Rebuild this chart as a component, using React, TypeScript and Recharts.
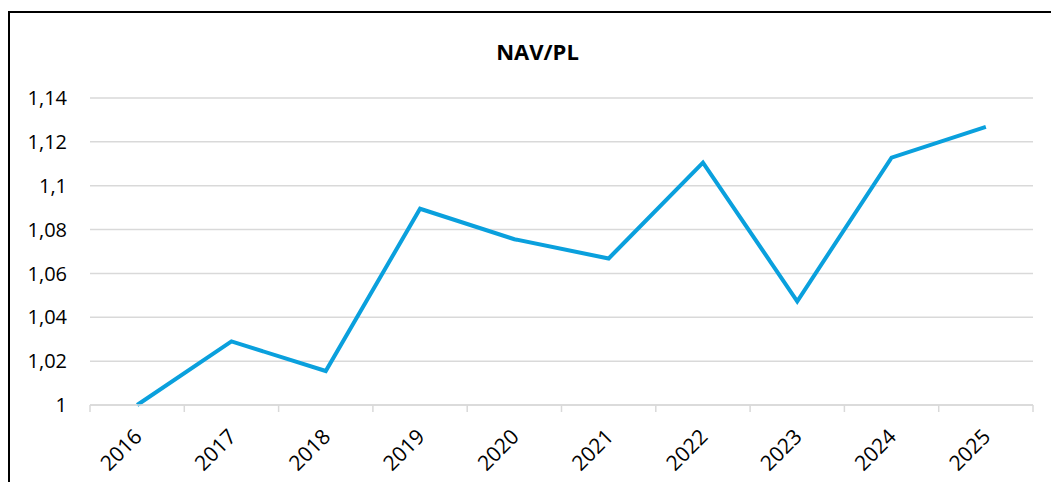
import React from 'react';
import { CartesianGrid, Line, LineChart, XAxis, YAxis } from 'recharts';

const years = ['2016', '2017', '2018', '2019', '2020', '2021', '2022', '2023', '2024', '2025'];
const navPl = [1.0, 1.029, 1.0155, 1.0895, 1.0756, 1.0668, 1.1105, 1.0473, 1.1128, 1.1268];
const yTicks = [1, 1.02, 1.04, 1.06, 1.08, 1.1, 1.12, 1.14];

const data = years.map((year, i) => ({ year, value: navPl[i] }));

const FONT = '"Open Sans", "Noto Sans", sans-serif';
const CHART_W = 1041;
const CHART_H = 469;
const MARGIN = { top: 85, right: 18, left: 20, bottom: 7 };
const Y_AXIS_W = 60;
const BAND = (CHART_W - MARGIN.left - MARGIN.right - Y_AXIS_W) / years.length;

const formatTick = (v: number): string => Number(v.toFixed(2)).toString().replace('.', ',');

const YearTick = (props: any) => {
  const { x, y, payload, index } = props;
  const axisY = y - 8;
  const isLast = index === years.length - 1;
  return (
    <g>
      <line x1={x - BAND / 2} x2={x - BAND / 2} y1={axisY} y2={axisY + 7} stroke="#d9d9d9" strokeWidth={1.5} />
      {isLast && (
        <line x1={x + BAND / 2} x2={x + BAND / 2} y1={axisY} y2={axisY + 7} stroke="#d9d9d9" strokeWidth={1.5} />
      )}
      <text
        x={x + 6}
        y={y + 25}
        transform={`rotate(-45, ${x + 6}, ${y + 25})`}
        textAnchor="end"
        fill="#000"
        fontSize={21}
        fontFamily={FONT}
      >
        {payload.value}
      </text>
    </g>
  );
};

export default function App() {
  return (
    <div
      style={{
        position: 'fixed',
        left: 8,
        top: 11,
        width: 1050,
        height: 480,
        borderLeft: '2px solid #000',
        borderTop: '2px solid #000',
        background: '#fff',
        fontFamily: FONT
      }}
    >
      <div
        style={{
          position: 'absolute',
          left: 0,
          width: 1055,
          top: 23,
          textAlign: 'center',
          fontWeight: 700,
          fontSize: 22,
          color: '#000'
        }}
      >
        NAV/PL
      </div>
      <LineChart width={CHART_W} height={CHART_H} data={data} margin={MARGIN}>
        <CartesianGrid vertical={false} stroke="#d9d9d9" strokeWidth={1.5} />
        <XAxis
          dataKey="year"
          scale="band"
          height={70}
          interval={0}
          tickLine={false}
          axisLine={{ stroke: '#d9d9d9', strokeWidth: 1.5 }}
          tick={<YearTick />}
        />
        <YAxis
          width={Y_AXIS_W}
          domain={[1, 1.14]}
          ticks={yTicks}
          tickFormatter={formatTick}
          axisLine={false}
          tickLine={false}
          tickMargin={17}
          tick={{ fill: '#000', fontSize: 20, fontFamily: FONT }}
        />
        <Line
          type="linear"
          dataKey="value"
          stroke="#0aa0dd"
          strokeWidth={4}
          dot={false}
          activeDot={false}
          isAnimationActive={false}
        />
      </LineChart>
    </div>
  );
}
